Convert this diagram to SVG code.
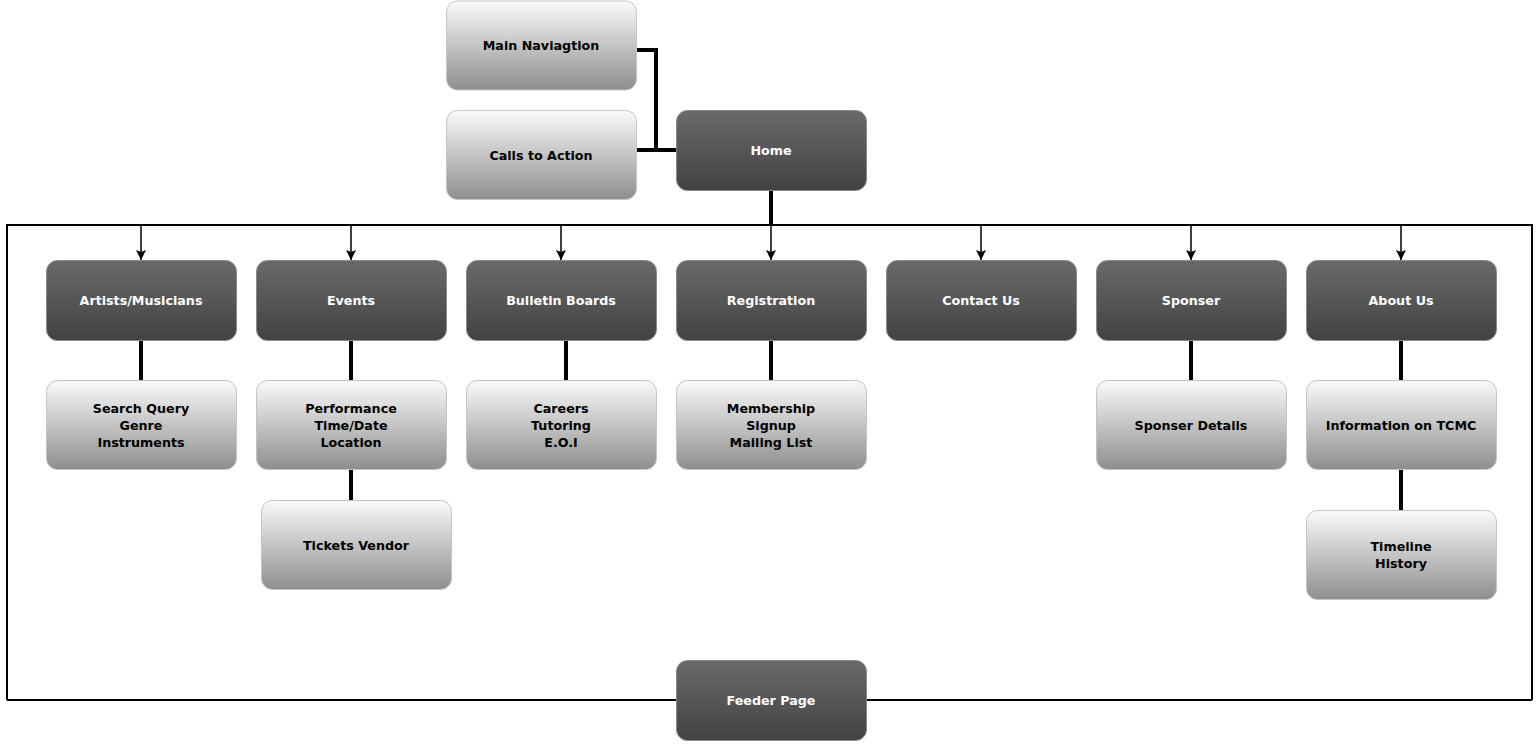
<svg xmlns="http://www.w3.org/2000/svg" width="1539" height="744" viewBox="0 0 1539 744">
<defs>
<linearGradient id="gDark" x1="0" y1="0" x2="0" y2="1">
<stop offset="0" stop-color="#6a6a6a"/>
<stop offset="1" stop-color="#424242"/>
</linearGradient>
<linearGradient id="gLight" x1="0" y1="0" x2="0" y2="1">
<stop offset="0" stop-color="#fafafa"/>
<stop offset="1" stop-color="#8e8e8e"/>
</linearGradient>
<marker id="arr" viewBox="0 0 10 10" refX="10" refY="5" markerWidth="10" markerHeight="11" markerUnits="userSpaceOnUse" orient="auto">
<path d="M0,0 L10,5 L0,10 L2,5 Z" fill="#000"/>
</marker>
</defs>
<style>
.dark rect{fill:url(#gDark);stroke:#8a8a8a;stroke-width:1}
.light rect{fill:url(#gLight);stroke:#c4c4c4;stroke-width:1}
text{font-family:"DejaVu Sans",Verdana,sans-serif;font-weight:bold;font-size:12.7px;text-anchor:middle;dominant-baseline:central}
.dark text{fill:#fff}
.light text{fill:#000}
.thick{stroke:#000;stroke-width:4;fill:none}
.thin{stroke:#000;stroke-width:2;fill:none}
.arrow{stroke:#000;stroke-width:1.5;fill:none;marker-end:url(#arr)}
</style>
<rect width="1539" height="744" fill="#fff"/>
<g id="connectors">
<polyline class="thick" points="636,50 656,50 656,150"/>
<line class="thick" x1="636" y1="150" x2="676" y2="150"/>
<line class="thick" x1="771" y1="190" x2="771" y2="225"/>
<polyline class="thin" points="7,700 7,225 1532,225 1532,700"/>
<line class="thin" x1="7" y1="700" x2="676" y2="700"/>
<line class="thin" x1="866" y1="700" x2="1532" y2="700"/>
<line class="arrow" x1="141" y1="225" x2="141" y2="260"/>
<line class="arrow" x1="351" y1="225" x2="351" y2="260"/>
<line class="arrow" x1="561" y1="225" x2="561" y2="260"/>
<line class="arrow" x1="771" y1="225" x2="771" y2="260"/>
<line class="arrow" x1="981" y1="225" x2="981" y2="260"/>
<line class="arrow" x1="1191" y1="225" x2="1191" y2="260"/>
<line class="arrow" x1="1401" y1="225" x2="1401" y2="260"/>
<line class="thick" x1="141" y1="340" x2="141" y2="380"/>
<line class="thick" x1="351" y1="340" x2="351" y2="380"/>
<line class="thick" x1="566" y1="340" x2="566" y2="380"/>
<line class="thick" x1="771" y1="340" x2="771" y2="380"/>
<line class="thick" x1="1191" y1="340" x2="1191" y2="380"/>
<line class="thick" x1="1401" y1="340" x2="1401" y2="380"/>
<line class="thick" x1="351" y1="470" x2="351" y2="500"/>
<line class="thick" x1="1401" y1="470" x2="1401" y2="510"/>
</g>
<g id="main-nav" class="light"><rect x="446.5" y="1" width="190" height="89" rx="11"/><text x="541" y="45">Main Naviagtion</text></g>
<g id="calls-to-action" class="light"><rect x="446.5" y="110.5" width="190" height="89" rx="11"/><text x="541" y="155">Calls to Action</text></g>
<g id="home" class="dark"><rect x="676.5" y="110.5" width="190" height="80" rx="11"/><text x="771" y="150">Home</text></g>
<g id="artists" class="dark"><rect x="46.5" y="260.5" width="190" height="80" rx="11"/><text x="141" y="300">Artists/Musicians</text></g>
<g id="events" class="dark"><rect x="256.5" y="260.5" width="190" height="80" rx="11"/><text x="351" y="300">Events</text></g>
<g id="bulletin" class="dark"><rect x="466.5" y="260.5" width="190" height="80" rx="11"/><text x="561" y="300">Bulletin Boards</text></g>
<g id="registration" class="dark"><rect x="676.5" y="260.5" width="190" height="80" rx="11"/><text x="771" y="300">Registration</text></g>
<g id="contact" class="dark"><rect x="886.5" y="260.5" width="190" height="80" rx="11"/><text x="981" y="300">Contact Us</text></g>
<g id="sponser" class="dark"><rect x="1096.5" y="260.5" width="190" height="80" rx="11"/><text x="1191" y="300">Sponser</text></g>
<g id="about" class="dark"><rect x="1306.5" y="260.5" width="190" height="80" rx="11"/><text x="1401" y="300">About Us</text></g>
<g id="search" class="light"><rect x="46.5" y="380.5" width="190" height="89" rx="11"/><text x="141" y="408">Search Query</text><text x="141" y="425">Genre</text><text x="141" y="442">Instruments</text></g>
<g id="performance" class="light"><rect x="256.5" y="380.5" width="190" height="89" rx="11"/><text x="351" y="408">Performance</text><text x="351" y="425">Time/Date</text><text x="351" y="442">Location</text></g>
<g id="careers" class="light"><rect x="466.5" y="380.5" width="190" height="89" rx="11"/><text x="561" y="408">Careers</text><text x="561" y="425">Tutoring</text><text x="561" y="442">E.O.I</text></g>
<g id="membership" class="light"><rect x="676.5" y="380.5" width="190" height="89" rx="11"/><text x="771" y="408">Membership</text><text x="771" y="425">Signup</text><text x="771" y="442">Mailing List</text></g>
<g id="sponser-details" class="light"><rect x="1096.5" y="380.5" width="190" height="89" rx="11"/><text x="1191" y="425">Sponser Details</text></g>
<g id="info-tcmc" class="light"><rect x="1306.5" y="380.5" width="190" height="89" rx="11"/><text x="1401" y="425">Information on TCMC</text></g>
<g id="tickets" class="light"><rect x="261.5" y="500.5" width="190" height="89" rx="11"/><text x="356" y="545">Tickets Vendor</text></g>
<g id="timeline" class="light"><rect x="1306.5" y="510.5" width="190" height="89" rx="11"/><text x="1401" y="546">Timeline</text><text x="1401" y="563">History</text></g>
<g id="feeder" class="dark"><rect x="676.5" y="660.5" width="190" height="80" rx="11"/><text x="771" y="700">Feeder Page</text></g>
</svg>
